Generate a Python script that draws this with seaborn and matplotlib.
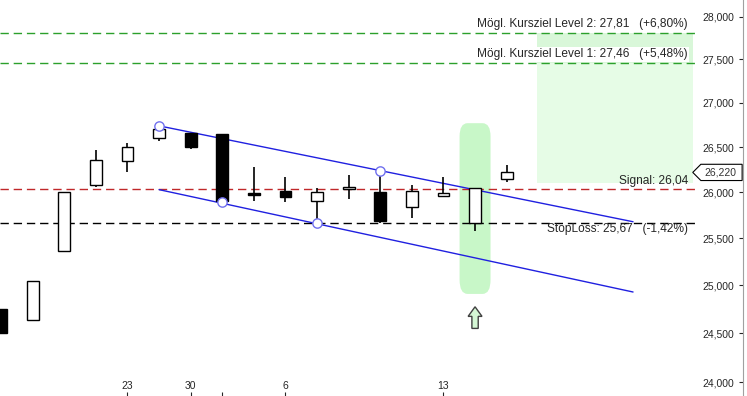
import numpy as np
import pandas as pd
import matplotlib
matplotlib.use("Agg")
import matplotlib.pyplot as plt
from matplotlib.path import Path
from matplotlib.patches import Rectangle, FancyBboxPatch, FancyArrow
import seaborn as sns

# candle data (index = trading day)
opens  = [24.75, 24.64, 25.37, 26.08, 26.35, 26.60, 26.66, 26.65, 25.99, 26.02,
          25.905, 26.04, 26.00, 25.84, 25.96, 25.67, 26.15]
closes = [24.50, 25.05, 26.00, 26.36, 26.50, 26.71, 26.50, 25.91, 25.97, 25.95,
          26.00, 26.06, 25.69, 26.015, 25.995, 26.05, 26.22]
highs  = [24.75, 25.05, 26.00, 26.47, 26.55, 26.74, 26.66, 26.65, 26.28, 26.17,
          26.05, 26.19, 26.24, 26.08, 26.17, 26.05, 26.30]
lows   = [24.50, 24.64, 25.37, 26.06, 26.23, 26.57, 26.48, 25.89, 25.91, 25.895,
          25.67, 25.93, 25.67, 25.72, 25.96, 25.585, 26.11]

date_ticks = [4, 6, 7, 9, 14]
date_labels = ["23", "30", "", "6", "13"]

# trend channel (start idx, end idx, values)
chan_x = [5, 20]
chan_upper = [26.74, 25.68]
chan_lower = [26.03, 24.93]
touch_x = [5, 7, 10, 12]
touch_y = [26.74, 25.89, 25.67, 26.24]

level2, level1 = 27.81, 27.46
signal, stoploss = 26.04, 25.67
last_price = 26.22
signal_idx = 15

yticks = [24.0, 24.5, 25.0, 25.5, 26.0, 26.5, 27.0, 27.5, 28.0]

FS = 7.5     # axis labels
FS_T = 8.6   # level texts
sns.set_style("white")
plt.rcParams['font.family'] = ['Liberation Sans', 'DejaVu Sans']

fig = plt.figure(figsize=(7.47, 3.96), dpi=100)
ax = fig.add_axes([0, 0, 743 / 747, 1])
ax.set_yscale('log')
ax.set_xlim(-0.035, 23.48)
ax.set_ylim(23.86, 28.198)
x_end = 22.02

# target zone
ax.add_patch(Rectangle((16.96, 26.10), 21.9 - 16.96, level2 - 26.10,
                       facecolor='#e6fce6', edgecolor='none', zorder=0))
ax.add_patch(Rectangle((16.96, level1), 21.9 - 16.96, level2 - level1,
                       facecolor='#d9f7d9', edgecolor='none', zorder=0))

# signal highlight
ax.add_patch(FancyBboxPatch((signal_idx - 0.49, 24.91), 0.98, 26.77 - 24.91,
                            boxstyle='round,pad=0,rounding_size=0.25',
                            mutation_aspect=0.6,
                            facecolor='#c8f7c8', edgecolor='none', zorder=0.5))

# horizontal levels
dash = (0, (6, 3.5))
for val, col in [(level2, '#2ca02c'), (level1, '#2ca02c'),
                 (signal, '#c0282a'), (stoploss, 'black')]:
    ax.hlines(val, -0.035, x_end, colors=col, linestyles=dash, linewidth=1, zorder=1)

# channel
df_ch = pd.DataFrame({'x': chan_x * 2, 'y': chan_upper + chan_lower,
                      'line': ['up', 'up', 'lo', 'lo']})
sns.lineplot(data=df_ch, x='x', y='y', units='line', estimator=None,
             color='#2020e0', linewidth=1, ax=ax, zorder=2)

# candles
x = np.arange(len(opens))
o, c = np.array(opens), np.array(closes)
ax.vlines(x, lows, highs, color='black', linewidth=1.2, zorder=3)
up = c >= o
ax.bar(x, np.abs(c - o), bottom=np.minimum(o, c), width=0.37,
       color=np.where(up, 'white', 'black'), edgecolor='black',
       linewidth=1, zorder=4)

sns.scatterplot(x=touch_x, y=touch_y, s=45, facecolor='white',
                edgecolor='#7070ee', linewidth=1, ax=ax, zorder=5)

# signal arrow
ax.add_patch(FancyArrow(signal_idx, 24.55, 0, 0.225, width=0.2, head_width=0.44,
                        head_length=0.1, length_includes_head=True,
                        facecolor='#d4f7d4', edgecolor='#404040', linewidth=1,
                        zorder=5))

# labels
tr = ax.get_yaxis_transform()
xr = 688 / 743
ax.annotate('Mögl. Kursziel Level 2: 27,81   (+6,80%)', (xr, level2), xycoords=tr,
            xytext=(0, 2), textcoords='offset points', ha='right', va='bottom',
            fontsize=FS_T, zorder=6)
ax.annotate('Mögl. Kursziel Level 1: 27,46   (+5,48%)', (xr, level1), xycoords=tr,
            xytext=(0, 2), textcoords='offset points', ha='right', va='bottom',
            fontsize=FS_T, zorder=6,
            bbox=dict(boxstyle='square,pad=0.12', facecolor='white', edgecolor='none'))
ax.annotate('Signal: 26,04', (xr, signal), xycoords=tr,
            xytext=(0, 1.5), textcoords='offset points', ha='right', va='bottom',
            fontsize=FS_T, zorder=6)
ax.annotate('StopLoss: 25,67   (-1,42%)', (xr, stoploss), xycoords=tr,
            xytext=(0, 0), textcoords='offset points', ha='right', va='top',
            fontsize=FS_T, zorder=6)


def price_tag(x0, y0, width, height, mutation_size):
    pad = 0.3 * mutation_size
    x0, y0 = x0 - pad, y0 - pad
    w, h = width + 2 * pad, height + 2 * pad
    verts = [(x0 - h * 0.5, y0 + h / 2), (x0, y0), (x0 + w + 3, y0),
             (x0 + w + 3, y0 + h), (x0, y0 + h), (x0 - h * 0.5, y0 + h / 2)]
    return Path(verts, closed=True)


ax.text(704 / 743, last_price, '26,220', transform=tr, ha='left', va='center',
        fontsize=FS, color='#333333', zorder=7, clip_on=False,
        bbox=dict(boxstyle=price_tag, facecolor='white', edgecolor='black', linewidth=0.8))

# axes
ax.set_yticks(yticks)
ax.set_yticklabels([f"{v:.3f}".replace('.', ',') for v in yticks])
ax.yaxis.set_minor_locator(matplotlib.ticker.NullLocator())
ax.yaxis.tick_right()
ax.tick_params(axis='y', direction='in', length=3, width=0.8, pad=-29,
               labelsize=FS, right=True, left=False)
ax.set_xticks(date_ticks)
ax.set_xticklabels(date_labels)
ax.tick_params(axis='x', direction='in', length=3, width=0.8, pad=-11,
               labelsize=FS, bottom=True)
for s in ['top', 'left', 'bottom']:
    ax.spines[s].set_visible(False)
ax.spines['right'].set_color('#a0a0a0')
ax.set_xlabel('')
ax.set_ylabel('')

fig.savefig('out.png', dpi=100)
